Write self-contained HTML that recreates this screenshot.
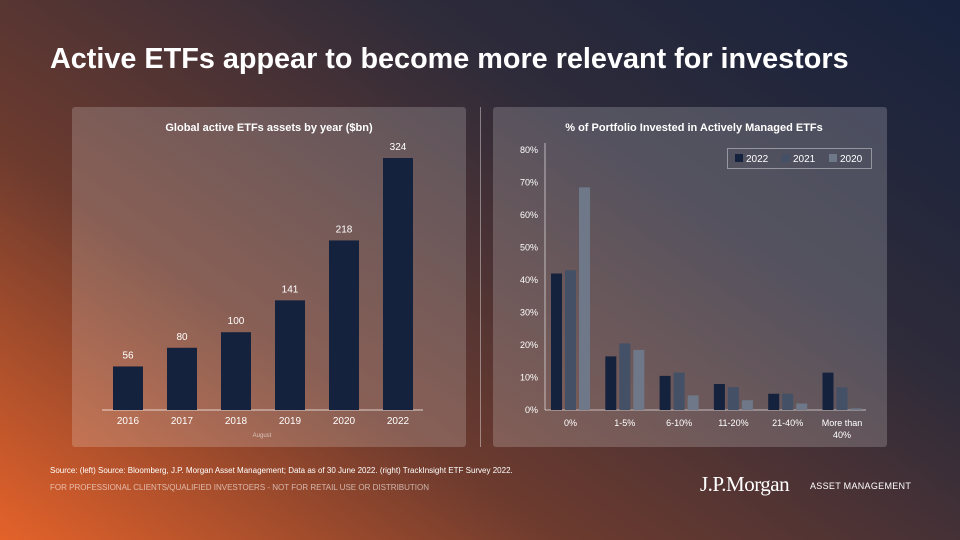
<!DOCTYPE html>
<html><head><meta charset="utf-8"><style>
body{margin:0;width:960px;height:540px;overflow:hidden;font-family:"Liberation Sans",sans-serif;}
#bg{position:absolute;left:0;top:0;width:960px;height:540px;background:linear-gradient(215deg,#17223d 0%,#2e2b3a 32%,#6e3b2e 68%,#e4622a 100%);}
.panel{position:absolute;top:107px;width:394px;height:340px;background:rgba(255,255,255,0.19);border-radius:3px;}
</style></head><body>
<div id="bg"></div>
<div style="position:absolute;left:50px;top:43px;color:#fff;font-size:28.8px;font-weight:bold;white-space:nowrap;">Active ETFs appear to become more relevant for investors</div>
<div class="panel" style="left:72px"></div>
<div class="panel" style="left:493px"></div>
<div style="position:absolute;left:480px;top:107px;width:1px;height:340px;background:rgba(255,255,255,0.4)"></div>
<svg id="chart" width="960" height="540" style="position:absolute;left:0;top:0" font-family="Liberation Sans, sans-serif">
<text x="269" y="131" fill="#fff" font-size="11" font-weight="bold" text-anchor="middle">Global active ETFs assets by year ($bn)</text>
<text x="694" y="131" fill="#fff" font-size="11" font-weight="bold" text-anchor="middle">% of Portfolio Invested in Actively Managed ETFs</text>
<text x="262" y="437" fill="rgba(255,255,255,0.6)" font-size="6" text-anchor="middle">August</text>
<line x1="102" y1="410" x2="423" y2="410" stroke="rgba(255,255,255,0.7)"/>
<line x1="545" y1="143" x2="545" y2="410" stroke="rgba(255,255,255,0.6)"/>
<line x1="545" y1="410" x2="866" y2="410" stroke="rgba(255,255,255,0.6)"/>
<g>
<rect x="727.5" y="148.5" width="144" height="20" fill="none" stroke="rgba(255,255,255,0.4)" stroke-width="1"/>
</g>
<g id="g"></g>
</svg>
<div style="position:absolute;left:50px;top:466px;color:#fff;font-size:8px;">Source: (left) Source: Bloomberg, J.P. Morgan Asset Management; Data as of 30 June 2022. (right) TrackInsight ETF Survey 2022.</div>
<div style="position:absolute;left:50px;top:483px;color:rgba(255,255,255,0.6);font-size:8px;">FOR PROFESSIONAL CLIENTS/QUALIFIED INVESTOERS - NOT FOR RETAIL USE OR DISTRIBUTION</div>
<div style="position:absolute;left:700px;top:472px;color:#fff;font-family:'Liberation Serif',serif;font-size:21px;letter-spacing:-0.5px;">J.P.Morgan</div>
<div style="position:absolute;left:810px;top:481px;color:#fff;font-size:9px;letter-spacing:0.3px;">ASSET MANAGEMENT</div>
<script>
const years=["2016","2017","2018","2019","2020","2022"];
const assets=[56,80,100,141,218,324];
const cats=["0%","1-5%","6-10%","11-20%","21-40%","More than|40%"];
const seriesNames=["2022","2021","2020"];
const s2022=[42,16.5,10.5,8,5,11.5];
const s2021=[43,20.5,11.5,7,5,7];
const s2020=[68.5,18.5,4.5,3,2,0.5];
const yTicks=[0,10,20,30,40,50,60,70,80];
const colors=["#15223d","#445066","#6e7888"];
const NS="http://www.w3.org/2000/svg";
const g=document.getElementById('g');
function mk(t,a){const e=document.createElementNS(NS,t);for(const k in a)e.setAttribute(k,a[k]);g.appendChild(e);return e;}
const lx=i=>128+i*54, ly=v=>410-v*252/324;
years.forEach((y,i)=>{
 const r=mk('rect',{x:lx(i)-15,y:ly(assets[i]),width:30,height:410-ly(assets[i]),fill:"#15223d"});
 
 
 const t=mk('text',{x:lx(i),y:ly(assets[i])-8,fill:"#fff","font-size":10,"text-anchor":"middle"});t.textContent=assets[i];
 
 
 const xl=mk('text',{x:lx(i),y:424,fill:"#fff","font-size":10,"text-anchor":"middle"});xl.textContent=y;
 
 
});
const rx=i=>570.5+i*54.3, ry=v=>410-v*3.25;
yTicks.forEach(v=>{
 const t=mk('text',{x:538,y:ry(v)+3,fill:"#fff","font-size":9,"text-anchor":"end"});t.textContent=v+"%";
 
 
});
const all=[s2022,s2021,s2020];
cats.forEach((c,i)=>{
 all.forEach((s,j)=>{
  const r=mk('rect',{x:rx(i)-19.5+j*14,y:ry(s[i]),width:11,height:410-ry(s[i]),fill:colors[j]});
  
  
 });
 c.split('|').forEach((p,k)=>{
  const t=mk('text',{x:rx(i),y:426+k*12,fill:"#fff","font-size":9,"text-anchor":"middle"});t.textContent=p;
  
  
 });
});
seriesNames.forEach((n,j)=>{
 const x=735+j*47;
 const r=mk('rect',{x:x,y:154,width:8,height:8,fill:colors[j]});
 
 
 const t=mk('text',{x:x+11,y:162,fill:"#fff","font-size":10});t.textContent=n;
 
 
});
</script>
</body></html>
